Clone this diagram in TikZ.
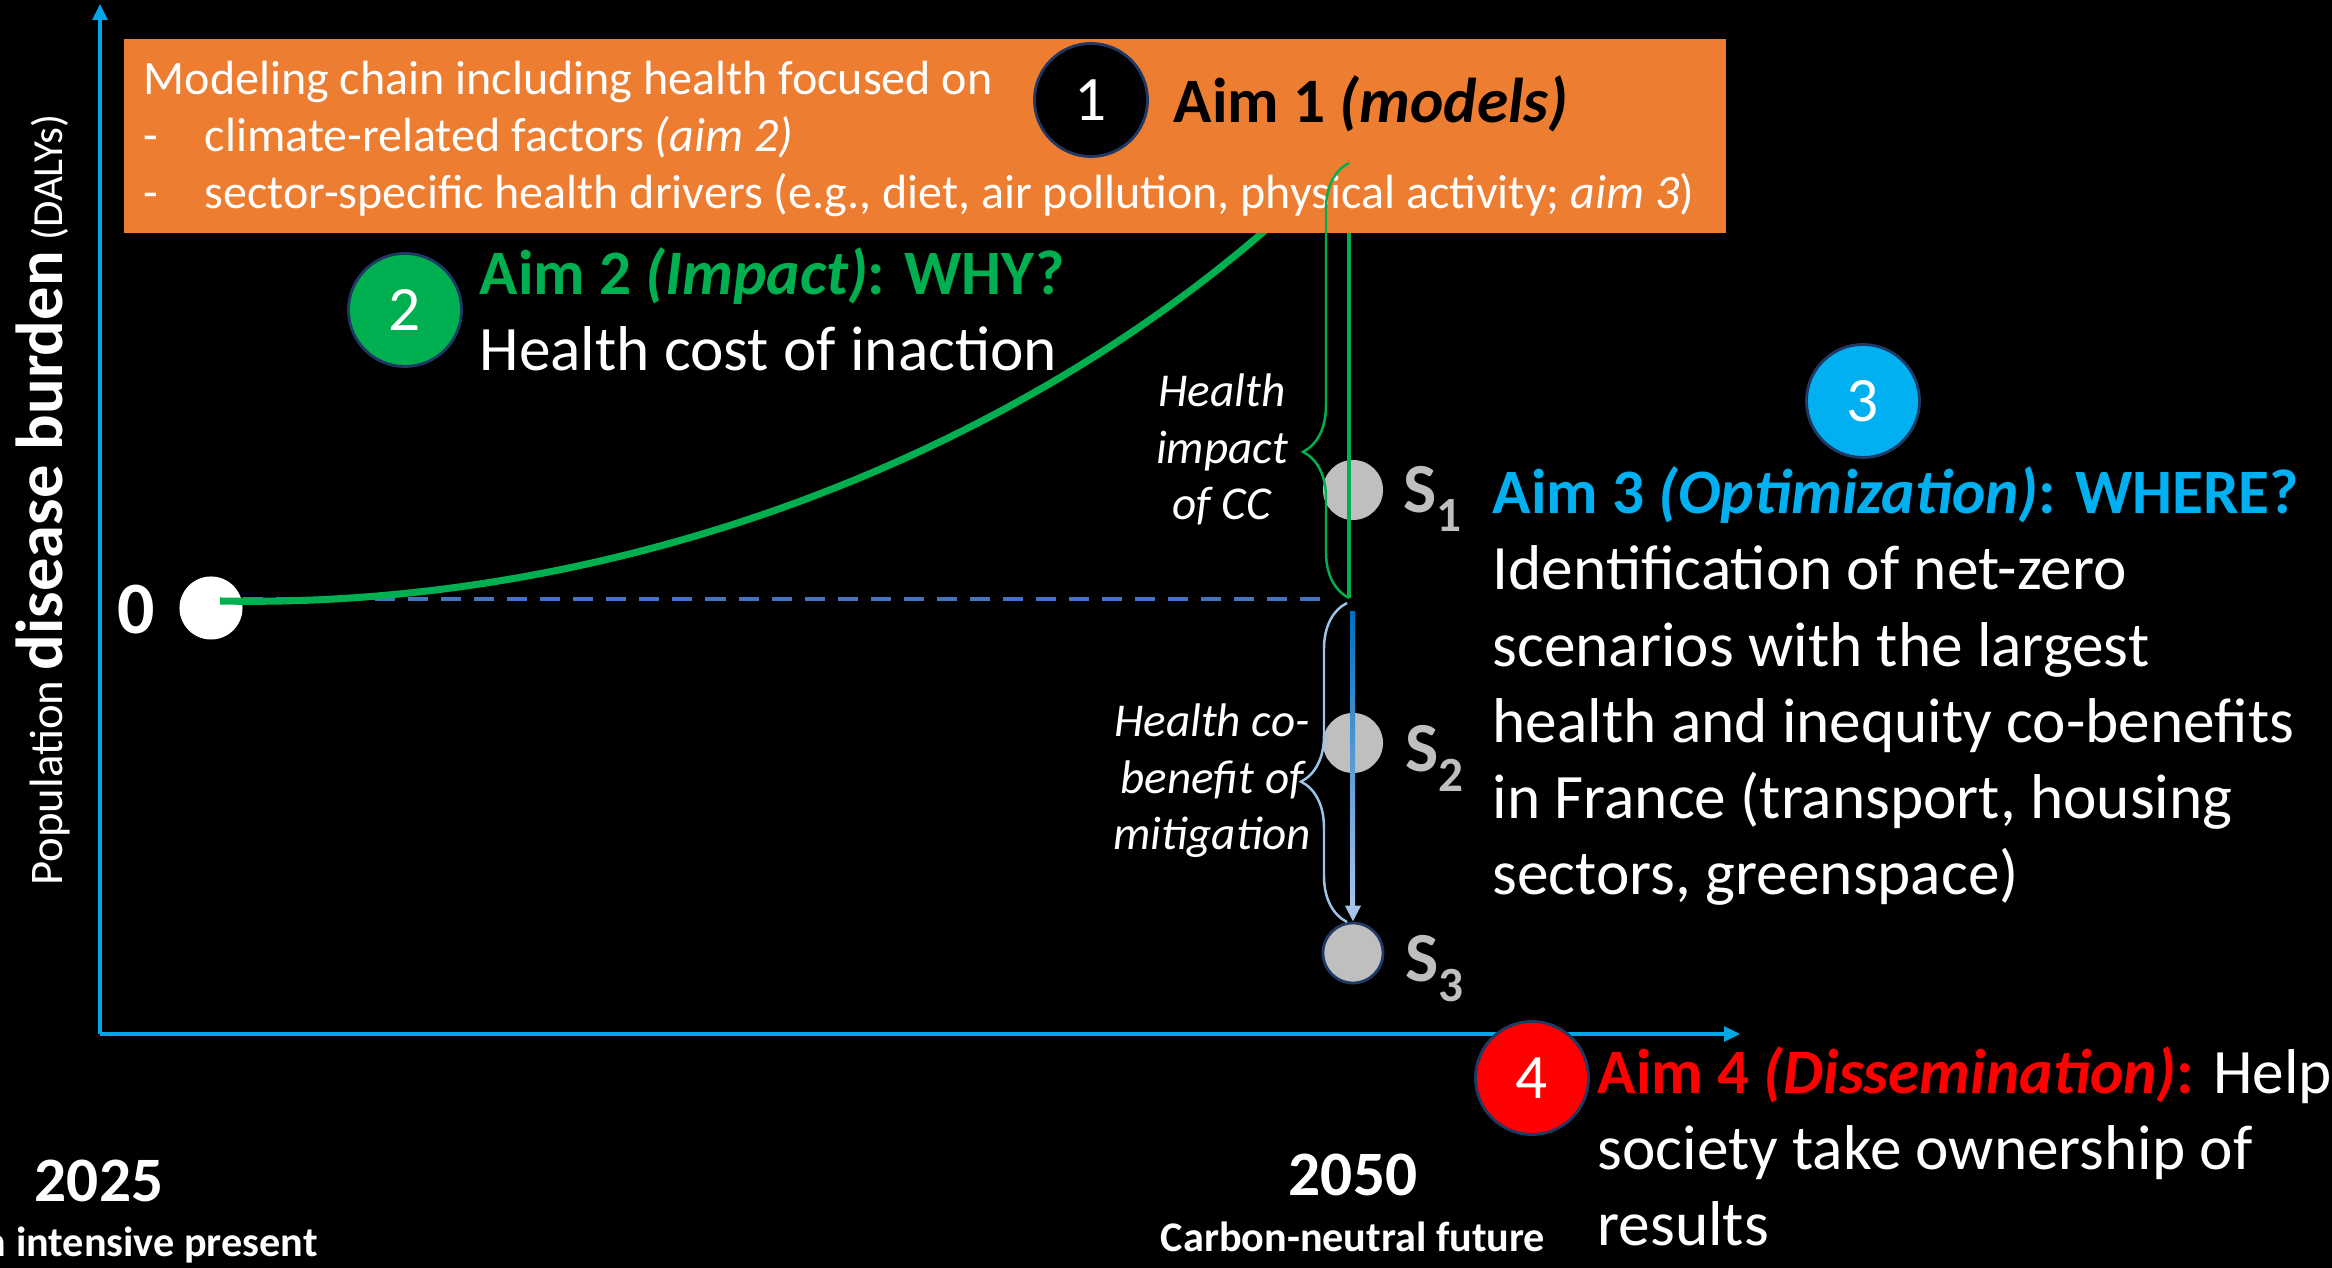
\documentclass[tikz,border=0pt]{standalone}
\usepackage{fontspec}
\setmainfont{Carlito}
\usetikzlibrary{arrows.meta, positioning, calc, decorations.pathreplacing}
\definecolor{axisBlue}{HTML}{00A6E6}
\definecolor{boxOrange}{HTML}{ED7D31}
\definecolor{aimGreen}{HTML}{00B050}
\definecolor{aimBlue}{HTML}{00B0F0}
\definecolor{aimRed}{HTML}{FF0000}
\definecolor{ringNavy}{HTML}{1F3864}
\definecolor{scenGray}{HTML}{BFBFBF}
\definecolor{zeroDash}{HTML}{4472C4}
\definecolor{braceBlue}{HTML}{9DC3E6}
\definecolor{mitDark}{HTML}{0070C0}
\definecolor{mitLight}{HTML}{A9C4EB}
\newcommand{\fsz}[2]{\fontsize{#1}{#2}\selectfont}
\newcommand{\scen}[1]{S\raisebox{-0.19cm}{\fsz{14}{14}#1}}
\tikzset{
  % numbered aim badges
  badge/.style={circle, draw=ringNavy, line width=0.8pt, fill=#1,
    minimum size=1.13cm, inner sep=0pt, text=white, font=\fsz{18}{18}},
  % aim headline + body (multi-line: base = baseline of the last line)
  aim/.style={anchor=base west, align=left, inner sep=0pt, text=white,
    font=\fsz{18}{21.7}},
  % 2050 scenario dots and their labels
  scn/.style={circle, fill=scenGray, minimum size=0.6cm, inner sep=0pt},
  slab/.style={anchor=base west, inner sep=0pt, text=scenGray,
    font=\bfseries\fsz{20}{20}},
  note/.style={anchor=base, align=center, inner sep=0pt, text=white,
    font=\itshape\fsz{13.4}{16.2}},
  yr/.style={anchor=base, inner sep=0pt, text=white, font=\bfseries\fsz{18}{18}},
  yrsub/.style={anchor=base, inner sep=0pt, text=white, font=\bfseries\fsz{12}{12}},
  ax/.style={axisBlue, line width=0.9pt, -{Triangle[length=0.16cm, width=0.15cm]}},
  brc/.style={decorate, decoration={brace, amplitude=0.46cm, aspect=#1},
    line width=0.7pt},
}

\begin{document}
\begin{tikzpicture}[x=0.01cm, y=-0.01cm]
\useasboundingbox (0,0) rectangle (2332,1268);
\fill[black] (0,0) rectangle (2332,1268);

% ── axes ─────────────────────────────────────────────────────────────
\coordinate (O) at (100,1034);
\coordinate (ytip) at (100,4);
\coordinate (xtip) at (1740,1034);
\draw[ax] (O) -- (ytip);
\draw[ax] (O) -- (xtip);

\node[rotate=90, anchor=base, inner sep=0pt, text=white, font=\fsz{13.3}{13.3}]
  (ylab) at (62,500)
  {Population {\bfseries\fsz{18.9}{18.9}disease burden} {\fsz{12.2}{12.2}(DALYs)}};

% ── today: burden level 0 ────────────────────────────────────────────
\node[circle, fill=white, minimum size=0.63cm, inner sep=0pt] (now) at (211,608) {};
\node[text=white, font=\bfseries\fsz{21}{21}] (zero) at (136,610) {0};
\coordinate (lvl) at (1326,599);
\draw[zeroDash, line width=0.9pt, dash pattern=on 0.2cm off 0.13cm]
  (now.east |- lvl) -- (lvl);

% ── 2050 scenarios ───────────────────────────────────────────────────
\node[scn] (s1) at (1353,490) {};
\node[scn] (s2) at (1353,743) {};
\node[scn, draw=ringNavy, line width=0.8pt] (s3) at (1353,953) {};
\node[slab] (s1lab) at (1403,513) {\scen{1}};
\node[slab] (s2lab) at (1405,772) {\scen{2}};
\node[slab] (s3lab) at (1405,982) {\scen{3}};

% no-action trajectory (runs under the box)
\coordinate (ccBot) at (1349,598);
\coordinate (ccTop) at (1349,163);
\coordinate (curveEnd) at (1330,170);
\draw[aimGreen, line width=0.9pt] (ccBot) -- (ccTop);
\draw[aimGreen, line width=2pt] (220,601)
  .. controls (650,610) and (1070,430) .. (curveEnd);

% ── modeling chain box + aim 1 ───────────────────────────────────────
\node[fill=boxOrange, minimum width=16.01cm, minimum height=1.94cm,
      anchor=north west, inner sep=0pt] (chain) at (123,38) {};
\node[anchor=base west, align=left, inner sep=0pt, text=white,
      font=\fsz{13.66}{16.3}] (chaintxt) at (143,209) {%
  Modeling chain including health focused on\\
  \makebox[0.61cm][l]{-}climate-related factors \textit{(aim 2)}\\
  \makebox[0.61cm][l]{-}sector-specific health drivers (e.g., diet, air pollution, physical activity; \textit{aim 3})};
\node[badge=black] (a1) at (1091,100) {1};
\node[aim, text=black, font=\bfseries\fsz{18}{21.7}] (a1txt) at (1173,123)
  {Aim 1 \textit{(models)}};

% ── braces and mitigation arrow ──────────────────────────────────────
\draw[brc=0.336, aimGreen] (ccBot) -- (ccTop);
\coordinate (cbBot) at (1347,922);
\coordinate (cbTop) at (1347,603);
\draw[brc=0.44, braceBlue] (cbBot) -- (cbTop);

\coordinate (mitTop) at (1352,612);
\shade[top color=mitDark, bottom color=mitLight]
  ($(mitTop)+(-2,0)$) rectangle ($(s3.north)+(2,-14)$);
\draw[mitLight, line width=1.1pt, -{Triangle[length=0.16cm, width=0.15cm]}]
  ($(s3.north)+(0,-16)$) -- (s3.north);

\node[note] (ccnote) at (1222,520) {Health\\impact\\of CC};
\node[note] (minote) at (1212,850) {Health co-\\benefit of\\mitigation};

% ── aims 2-4 ─────────────────────────────────────────────────────────
\node[badge=aimGreen] (a2) at (405,310) {2};
\node[aim] (a2txt) at (479,371) {%
  \textcolor{aimGreen}{\bfseries Aim 2 \textit{(Impact)}: WHY?}\\
  Health cost of inaction};

\node[badge=aimBlue] (a3) at (1863,401) {3};
\node[aim] (a3txt) at (1492,895) {%
  \textcolor{aimBlue}{\bfseries Aim 3 \textit{(Optimization)}: WHERE?}\\
  Identification of net-zero\\
  scenarios with the largest\\
  health and inequity co-benefits\\
  in France (transport, housing\\
  sectors, greenspace)};

\node[badge=aimRed] (a4) at (1532,1078) {4};
\node[aim] (a4txt) at (1597,1246) {%
  \textcolor{aimRed}{\bfseries Aim 4 \textit{(Dissemination)}:} Help\\
  society take ownership of\\
  results};

% ── time points ──────────────────────────────────────────────────────
\node[yr] (y25) at (99,1202) {2025};
\node[yrsub] (y25sub) at (99,1257) {Carbon intensive present};
\node[yr] (y50) at (1353,1196) {2050};
\node[yrsub] (y50sub) at (1353,1252) {Carbon-neutral future};

\end{tikzpicture}
\end{document}
